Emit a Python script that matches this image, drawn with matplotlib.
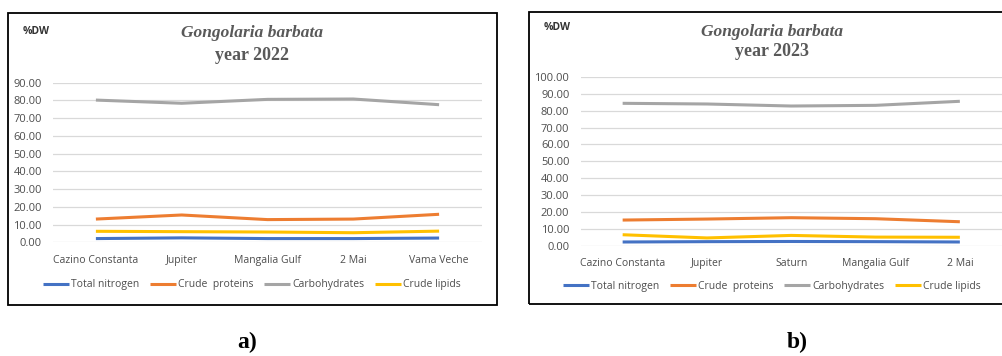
import matplotlib
matplotlib.use("Agg")
import matplotlib.pyplot as plt
from matplotlib.patches import Rectangle
from matplotlib.ticker import FormatStrFormatter

# data (% dry weight)
series_names = ["Total nitrogen", "Crude  proteins", "Carbohydrates", "Crude lipids"]
colors = ["#4472C4", "#ED7D31", "#A5A5A5", "#FFC000"]

sites_2022 = ["Cazino Constanta", "Jupiter", "Mangalia Gulf", "2 Mai", "Vama Veche"]
nitrogen_2022 = [2.1, 2.5, 2.1, 2.1, 2.4]
proteins_2022 = [13.1, 15.4, 12.8, 13.1, 15.8]
carbs_2022 = [80.2, 78.4, 80.6, 80.8, 77.6]
lipids_2022 = [6.2, 6.0, 5.8, 5.4, 6.3]

sites_2023 = ["Cazino Constanta", "Jupiter", "Saturn", "Mangalia Gulf", "2 Mai"]
nitrogen_2023 = [2.2, 2.4, 2.5, 2.4, 2.2]
proteins_2023 = [15.2, 15.8, 16.6, 16.0, 14.2]
carbs_2023 = [84.4, 84.0, 82.8, 83.2, 85.6]
lipids_2023 = [6.5, 4.6, 6.1, 5.1, 5.0]

W, H = 1003, 356
fig = plt.figure(figsize=(W / 100, H / 100), dpi=100)

sans = "Open Sans"
serif = "Liberation Serif"
tick_col = "#4d4d4d"
title_col = "#595959"


def px_axes(x0, y0, x1, y1):
    # pixel box (top-left origin) -> figure axes
    return fig.add_axes([x0 / W, 1 - y1 / H, (x1 - x0) / W, (y1 - y0) / H])


def draw_panel(ax, sites, data, ymax, year, box, title_x, title_y, dw_xy, leg_y, tag_xy):
    x = range(len(sites))
    for vals, c, name in zip(data, colors, series_names):
        ax.plot(x, vals, color=c, lw=2.2, label=name, solid_capstyle="butt")
    ax.set_xlim(-0.5, len(sites) - 0.5)
    ax.set_ylim(0, ymax)
    ax.set_yticks(range(0, ymax + 1, 10))
    ax.yaxis.set_major_formatter(FormatStrFormatter("%.2f"))
    ax.grid(axis="y", color="#D9D9D9", lw=0.9)
    ax.set_axisbelow(True)
    for s in ax.spines.values():
        s.set_visible(False)
    ax.set_xticks(list(x))
    ax.set_xticklabels(sites)
    ax.tick_params(length=0, labelcolor=tick_col)
    ax.tick_params(axis="y", labelsize=8, pad=8)
    ax.tick_params(axis="x", labelsize=7.5, pad=9)
    for lab in ax.get_yticklabels() + ax.get_xticklabels():
        lab.set_fontfamily(sans)

    # frame round the chart
    bx0, by0, bx1, by1 = box
    fig.patches.append(Rectangle((bx0 / W, 1 - by1 / H), (bx1 - bx0) / W, (by1 - by0) / H,
                                 transform=fig.transFigure, fill=False, ec="black", lw=1.3))

    fig.text(title_x / W, 1 - title_y[0] / H, "Gongolaria barbata", ha="center", va="center",
             family=serif, style="italic", weight="bold", fontsize=12.5, color=title_col)
    fig.text(title_x / W, 1 - title_y[1] / H, "year " + year, ha="center", va="center",
             family=serif, weight="bold", fontsize=13, color=title_col)
    fig.text(dw_xy[0] / W, 1 - dw_xy[1] / H, "%DW", ha="left", va="center",
             family=sans, weight="bold", fontsize=7.5, color="#333333")

    handles, labels = ax.get_legend_handles_labels()
    fig.legend(handles, labels, loc="center", bbox_to_anchor=(title_x / W, 1 - leg_y / H),
               ncol=4, frameon=False, handlelength=2.5, handletextpad=0.2, columnspacing=1.0,
               prop={"family": sans, "size": 7.5}, labelcolor=tick_col)

    fig.text(tag_xy[0] / W, 1 - tag_xy[1] / H, tag_xy[2], ha="center", va="center",
             family=serif, weight="bold", fontsize=17, color="black")


ax1 = px_axes(53, 82.7, 482, 242.3)
draw_panel(ax1, sites_2022, [nitrogen_2022, proteins_2022, carbs_2022, lipids_2022], 90, "2022",
           (8, 13, 497, 305), 252, (33, 56), (23, 31), 285, (247, 342, "a)"))

ax2 = px_axes(580.5, 77, 1002, 245.7)
draw_panel(ax2, sites_2023, [nitrogen_2023, proteins_2023, carbs_2023, lipids_2023], 100, "2023",
           (529, 12, 1010, 304), 772, (32, 52), (544, 28), 286, (797, 342, "b)"))

fig.savefig("out.png", dpi=100)
